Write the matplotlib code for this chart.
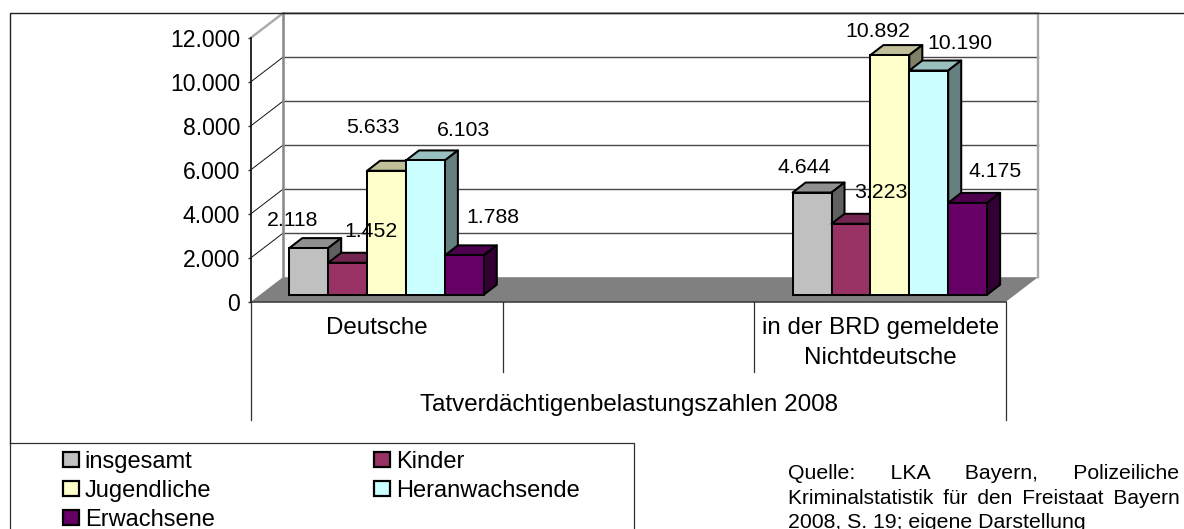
import matplotlib
matplotlib.use("Agg")
import matplotlib.pyplot as plt
from matplotlib.patches import Patch
from matplotlib.lines import Line2D

categories = ["Deutsche", "", "in der BRD gemeldete\nNichtdeutsche"]
axis_title = "Tatverdächtigenbelastungszahlen 2008"
series_names = ["insgesamt", "Kinder", "Jugendliche", "Heranwachsende", "Erwachsene"]
deutsche = [2118, 1452, 5633, 6103, 1788]
nichtdeutsche = [4644, 3223, 10892, 10190, 4175]
y_ticks = [0, 2000, 4000, 6000, 8000, 10000, 12000]
y_tick_labels = ["0", "2.000", "4.000", "6.000", "8.000", "10.000", "12.000"]
source_lines = ["Quelle:      LKA      Bayern,      Polizeiliche",
                "Kriminalstatistik \u2009für \u2009den \u2009Freistaat \u2009Bayern",
                "2008, S. 19; eigene Darstellung"]

# styling / layout
W, H = 1184, 529
front = ["#C0C0C0", "#993366", "#FFFFCC", "#CCFFFF", "#660066"]
top = ["#909090", "#732650", "#BFBF99", "#99BFBF", "#4D004D"]
side = ["#606060", "#4D1A33", "#808066", "#668080", "#330033"]
plt.rcParams["font.family"] = ["Liberation Sans", "DejaVu Sans"]

fig = plt.figure(figsize=(W / 100, H / 100), dpi=100)
L, R, B, T = 251, 1006, 301.7, 37.7
ax = fig.add_axes([L / W, 1 - B / H, (R - L) / W, (B - T) / H])
ax.set_xlim(-0.5, 2.5)
ax.set_ylim(0, 12000)
ax.patch.set_visible(False)
px_x = 3 / (R - L)            # data per pixel, x
px_y = 12000 / (B - T)        # data per pixel, y

# oblique offsets in data units
wall_dx, wall_dy = 32 * px_x, 24.5 * px_y
gap_dx, gap_dy = 9.7 * px_x, 7 * px_y
bar_dx, bar_dy = 13 * px_x, 10 * px_y
bar_w = 38.9 * px_x
x0, x1 = -0.5, 2.5

# floor
ax.fill([x0, x1, x1 + wall_dx, x0 + wall_dx], [0, 0, wall_dy, wall_dy],
        color="#808080", lw=0, clip_on=False, zorder=1)
# gridlines on back wall and left wall
for t in y_ticks[1:-1]:
    ax.plot([x0 + wall_dx, x1 + wall_dx], [t + wall_dy] * 2, color="#484848", lw=1.0,
            clip_on=False, zorder=1.5)
    ax.plot([x0, x0 + wall_dx], [t, t + wall_dy], color="#101010", lw=0.7,
            clip_on=False, zorder=1.5)
# wall outline
ymax = y_ticks[-1]
ax.plot([x0, x0 + wall_dx, x1 + wall_dx, x1 + wall_dx],
        [ymax, ymax + wall_dy, ymax + wall_dy, wall_dy],
        color="#A8A8A8", lw=1.7, clip_on=False, zorder=1.6, solid_joinstyle="miter")
ax.plot([x0 + wall_dx, x0 + wall_dx], [wall_dy, ymax + wall_dy], color="#888888", lw=1.8,
        clip_on=False, zorder=1.6)

# bars
z = 2
for cat, values in [(0, deutsche), (2, nichtdeutsche)]:
    for i, v in enumerate(values):
        left = cat + gap_dx + (i - 2.5) * bar_w
        b = gap_dy
        ek = dict(edgecolor="black", linewidth=1.45, joinstyle="round", clip_on=False)
        ax.fill([left, left + bar_w, left + bar_w + bar_dx, left + bar_dx],
                [b + v, b + v, b + v + bar_dy, b + v + bar_dy], facecolor=top[i], zorder=z, **ek)
        ax.fill([left + bar_w, left + bar_w + bar_dx, left + bar_w + bar_dx, left + bar_w],
                [b, b + bar_dy, b + v + bar_dy, b + v], facecolor=side[i], zorder=z, **ek)
        ax.bar(left, v, width=bar_w, bottom=b, align="edge", color=front[i], zorder=z,
               edgecolor="black", linewidth=1.45, clip_on=False)
        z += 0.01

# data labels: pixel nudges from the bar's top centre
nudges = {0: [(-16, 28), (23, 31), (-14, 43), (38, 30), (29, 38)],
          2: [(-8, 25.5), (30, 31), (-12, 24), (31, 27.5), (27, 31)]}
for cat, values in [(0, deutsche), (2, nichtdeutsche)]:
    for i, v in enumerate(values):
        cx = cat + gap_dx + (i - 2) * bar_w
        ax.annotate(f"{v:,}".replace(",", "."), (cx, v + gap_dy),
                    xytext=(nudges[cat][i][0] * 0.72, nudges[cat][i][1] * 0.72),
                    textcoords="offset points", ha="center", va="center",
                    fontsize=15.3, zorder=5, annotation_clip=False)

# axes
for s in ["top", "right", "bottom"]:
    ax.spines[s].set_visible(False)
ax.spines["left"].set_color("#181818")
ax.spines["left"].set_linewidth(1.3)
ax.set_yticks(y_ticks, y_tick_labels, fontsize=16.6)
ax.tick_params(axis="y", length=2.5, width=1, pad=5.5, color="#303030")
ax.set_xticks([0, 1, 2], categories, fontsize=17.4, linespacing=1.45)
ax.tick_params(axis="x", length=0, pad=11)
for lab in ax.get_xticklabels():
    lab.set_verticalalignment("top")

# multi-level category axis lines
ln = dict(transform=ax.get_xaxis_transform(), color="#303030", lw=0.9, clip_on=False, zorder=3)
ax.plot([x0, x1], [0, 0], color="#303030", lw=1.1, clip_on=False, zorder=3)
lo_short = -(372 - B) / (B - T)
lo_long = -(420 - B) / (B - T)
ax.plot([x0, x0], [0, lo_long], **ln)
ax.plot([x1, x1], [0, lo_long], **ln)
ax.plot([0.5, 0.5], [0, lo_short], **ln)
ax.plot([1.5, 1.5], [0, lo_short], **ln)
ax.text(1, -(405 - B) / (B - T), axis_title, transform=ax.get_xaxis_transform(),
        ha="center", va="center", fontsize=17.4)

# outer frame and legend box
fig.add_artist(Line2D([10 / W, 10 / W, 1], [1 - 443 / H, 1 - 13 / H, 1 - 13 / H],
                      color="#202020", lw=1.0))
fig.add_artist(Line2D([10 / W, 634 / W, 634 / W], [1 - 443 / H, 1 - 443 / H, 0],
                      color="#303030", lw=0.9))
fig.add_artist(Line2D([10 / W, 10 / W], [1 - 443 / H, 0], color="#303030", lw=0.9))

order = [0, 2, 4, 1, 3]
handles = [Patch(facecolor=front[i], edgecolor="black", linewidth=1.6, label=series_names[i])
           for i in order]
fig.legend(handles=handles, ncol=2, frameon=False, fontsize=17,
           loc="upper left", bbox_to_anchor=(63 / W, 1 - 451 / H),
           borderpad=0, borderaxespad=0, handlelength=0.66, handleheight=0.58,
           handletextpad=0.26, labelspacing=0.29, columnspacing=6.76)

# source note (baselines)
for line, yy, fs in zip(source_lines, [479.3, 504, 527.5], [15.3, 15.05, 15.3]):
    fig.text(788 / W, 1 - yy / H, line, fontsize=fs, ha="left", va="baseline")

fig.savefig("out.png", dpi=100)
